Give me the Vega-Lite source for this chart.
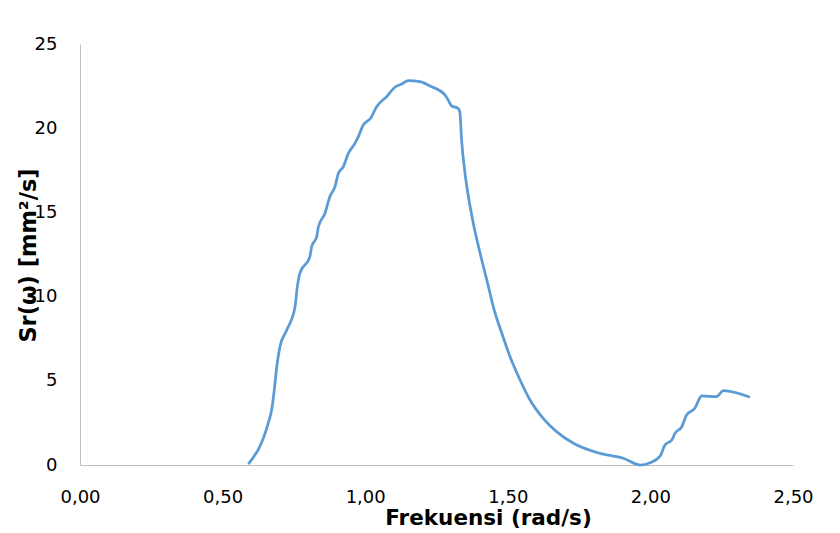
{
  "$schema": "https://vega.github.io/schema/vega-lite/v6.json",
  "width": 713,
  "height": 421,
  "autosize": {"type": "none"},
  "padding": {"left": 80, "top": 44, "right": 47, "bottom": 68},
  "background": "white",
  "config": {
    "view": {"stroke": null},
    "font": "DejaVu Sans"
  },
  "data": {
    "values": [
      {"w": 0.590, "s": 0.05},
      {"w": 0.660, "s": 2.48},
      {"w": 0.672, "s": 3.27},
      {"w": 0.680, "s": 4.26},
      {"w": 0.690, "s": 5.84},
      {"w": 0.701, "s": 7.02},
      {"w": 0.725, "s": 8.02},
      {"w": 0.754, "s": 9.40},
      {"w": 0.762, "s": 10.59},
      {"w": 0.771, "s": 11.38},
      {"w": 0.806, "s": 12.37},
      {"w": 0.812, "s": 12.96},
      {"w": 0.830, "s": 13.56},
      {"w": 0.836, "s": 14.15},
      {"w": 0.859, "s": 14.95},
      {"w": 0.876, "s": 15.93},
      {"w": 0.894, "s": 16.53},
      {"w": 0.906, "s": 17.32},
      {"w": 0.923, "s": 17.71},
      {"w": 0.941, "s": 18.51},
      {"w": 0.964, "s": 19.10},
      {"w": 0.976, "s": 19.50},
      {"w": 0.993, "s": 20.19},
      {"w": 1.019, "s": 20.59},
      {"w": 1.040, "s": 21.28},
      {"w": 1.075, "s": 21.87},
      {"w": 1.104, "s": 22.43},
      {"w": 1.128, "s": 22.62},
      {"w": 1.151, "s": 22.82},
      {"w": 1.192, "s": 22.76},
      {"w": 1.227, "s": 22.51},
      {"w": 1.280, "s": 21.97},
      {"w": 1.291, "s": 21.67},
      {"w": 1.303, "s": 21.33},
      {"w": 1.326, "s": 21.18},
      {"w": 1.332, "s": 20.95},
      {"w": 1.338, "s": 19.30},
      {"w": 1.350, "s": 17.32},
      {"w": 1.362, "s": 15.93},
      {"w": 1.379, "s": 14.35},
      {"w": 1.403, "s": 12.57},
      {"w": 1.435, "s": 10.39},
      {"w": 1.449, "s": 9.40},
      {"w": 1.479, "s": 7.82},
      {"w": 1.508, "s": 6.43},
      {"w": 1.543, "s": 5.05},
      {"w": 1.578, "s": 3.86},
      {"w": 1.624, "s": 2.77},
      {"w": 1.671, "s": 1.98},
      {"w": 1.730, "s": 1.29},
      {"w": 1.823, "s": 0.69},
      {"w": 1.905, "s": 0.40},
      {"w": 1.964, "s": 0.00},
      {"w": 1.999, "s": 0.14},
      {"w": 2.034, "s": 0.53},
      {"w": 2.051, "s": 1.19},
      {"w": 2.075, "s": 1.48},
      {"w": 2.086, "s": 1.88},
      {"w": 2.110, "s": 2.27},
      {"w": 2.127, "s": 2.97},
      {"w": 2.156, "s": 3.37},
      {"w": 2.180, "s": 4.10},
      {"w": 2.232, "s": 4.06},
      {"w": 2.256, "s": 4.41},
      {"w": 2.349, "s": 4.02}
    ]
  },
  "mark": {"type": "line", "color": "#5B9BD5", "strokeWidth": 2.75, "interpolate": "monotone"},
  "encoding": {
    "x": {
      "field": "w",
      "type": "quantitative",
      "scale": {"domain": [0, 2.5], "nice": false, "zero": false},
      "axis": {
        "values": [0, 0.5, 1, 1.5, 2, 2.5],
        "labelExpr": "replace(format(datum.value, '.2f'), '.', ',')",
        "grid": false,
        "ticks": false,
        "domainColor": "#bfbfbf",
        "domainWidth": 1,
        "labelFont": "DejaVu Sans",
        "labelFontSize": 18,
        "labelColor": "#000000",
        "labelPadding": 23,
        "labelFlush": false,
        "title": "Frekuensi (rad/s)",
        "titleFont": "DejaVu Sans",
        "titleFontSize": 21.5,
        "titleFontWeight": "bold",
        "titleColor": "#000000",
        "titleX": 408,
        "titleY": 53,
        "titleAlign": "center",
        "titleBaseline": "middle",
        "titleAnchor": null
      }
    },
    "y": {
      "field": "s",
      "type": "quantitative",
      "scale": {"domain": [0, 25], "nice": false},
      "axis": {
        "values": [0, 5, 10, 15, 20, 25],
        "grid": false,
        "ticks": false,
        "domainColor": "#bfbfbf",
        "domainWidth": 1,
        "labelFont": "DejaVu Sans",
        "labelFontSize": 18,
        "labelColor": "#000000",
        "labelPadding": 23,
        "labelFlush": false,
        "title": "Sr(ω) [mm²/s]",
        "titleFont": "DejaVu Sans",
        "titleFontSize": 22.5,
        "titleFontWeight": "bold",
        "titleColor": "#000000",
        "titleAngle": -90,
        "titleX": -52,
        "titleY": 211,
        "titleAlign": "center",
        "titleBaseline": "middle",
        "titleAnchor": null
      }
    }
  }
}
